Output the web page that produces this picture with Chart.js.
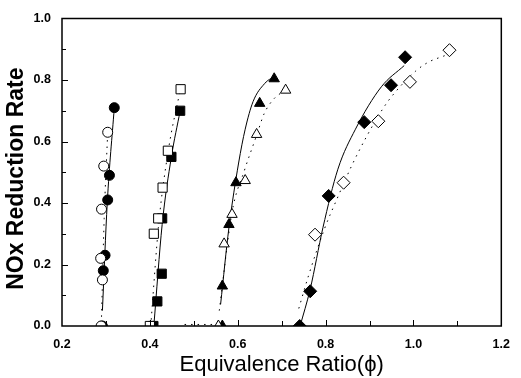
<!DOCTYPE html>
<html>
<head>
<meta charset="utf-8">
<script src="https://cdn.jsdelivr.net/npm/chart.js@4/dist/chart.umd.min.js"></script>
<style>
  html, body { margin: 0; padding: 0; background: #fff; }
  #wrap { width: 521px; height: 378px; }
</style>
</head>
<body>
<div id="wrap"><canvas id="noxChart"></canvas></div>
<script>
// measured points (equivalence ratio, NOx reduction rate)
const circleFilledX = [0.292, 0.294, 0.298, 0.304, 0.308, 0.319];
const circleFilledY = [0.0, 0.18, 0.23, 0.41, 0.49, 0.71];
const circleOpenX = [0.289, 0.292, 0.288, 0.290, 0.295, 0.304];
const circleOpenY = [0.0, 0.15, 0.22, 0.38, 0.52, 0.63];

const squareFilledX = [0.408, 0.417, 0.427, 0.428, 0.449, 0.469];
const squareFilledY = [0.0, 0.08, 0.17, 0.35, 0.55, 0.70];
const squareOpenX = [0.400, 0.409, 0.419, 0.429, 0.441, 0.470];
const squareOpenY = [0.0, 0.30, 0.35, 0.45, 0.57, 0.77];

const triFilledX = [0.565, 0.565, 0.580, 0.596, 0.650, 0.683];
const triFilledY = [0.0, 0.13, 0.33, 0.466, 0.724, 0.804];
const triOpenX = [0.556, 0.569, 0.587, 0.617, 0.643, 0.709];
const triOpenY = [0.0, 0.267, 0.363, 0.473, 0.623, 0.767];

const diaFilledX = [0.741, 0.765, 0.807, 0.888, 0.949, 0.981];
const diaFilledY = [0.0, 0.113, 0.423, 0.663, 0.783, 0.874];
const diaOpenX = [0.776, 0.841, 0.920, 0.992, 1.082];
const diaOpenY = [0.297, 0.466, 0.666, 0.794, 0.897];

// fitted curves
const fitCircleX = [0.292, 0.303, 0.319];
const fitCircleY = [0.05, 0.40, 0.71];
const fitCircleDotX = [0.290, 0.296, 0.304];
const fitCircleDotY = [0.03, 0.35, 0.63];

const fitSquareX = [0.409, 0.428, 0.449, 0.469];
const fitSquareY = [0.0, 0.33, 0.55, 0.70];
const fitSquareDotX = [0.402, 0.420, 0.443, 0.468];
const fitSquareDotY = [0.0, 0.33, 0.58, 0.76];

const fitTriX = [0.561, 0.580, 0.602, 0.617, 0.635, 0.661, 0.676, 0.684];
const fitTriY = [0.07, 0.32, 0.53, 0.64, 0.73, 0.788, 0.804, 0.805];
const fitTriDotX = [0.558, 0.587, 0.615, 0.643, 0.660, 0.680, 0.705];
const fitTriDotY = [0.05, 0.37, 0.505, 0.62, 0.69, 0.735, 0.765];
const fitTriBaseX = [0.479, 0.556];
const fitTriBaseY = [0.005, 0.005];

const fitDiaX = [0.742, 0.765, 0.794, 0.828, 0.868, 0.927, 0.979];
const fitDiaY = [0.0, 0.12, 0.32, 0.51, 0.64, 0.778, 0.847];
const fitDiaDotX = [0.739, 0.761, 0.798, 0.828, 0.859, 0.894, 0.931, 0.953, 1.005, 1.034, 1.071];
const fitDiaDotY = [0.057, 0.163, 0.318, 0.42, 0.52, 0.618, 0.708, 0.751, 0.829, 0.858, 0.879];

const xTicks = [0.2, 0.4, 0.6, 0.8, 1.0, 1.2];
const yTicks = [0.0, 0.2, 0.4, 0.6, 0.8, 1.0];

function pts(xs, ys) {
  return xs.map((x, i) => ({ x: x, y: ys[i] }));
}

function marker(xs, ys, style, filled, radius) {
  return {
    type: 'scatter',
    data: pts(xs, ys),
    pointStyle: style,
    pointRadius: radius,
    pointBorderWidth: 1,
    pointBorderColor: '#000',
    pointBackgroundColor: filled ? '#000' : '#fff',
    showLine: false,
    order: 0
  };
}

function fit(xs, ys, dotted) {
  return {
    type: 'line',
    data: pts(xs, ys),
    borderColor: '#000',
    borderWidth: 1,
    borderDash: dotted ? [1.5, 5] : [],
    pointRadius: 0,
    cubicInterpolationMode: 'monotone',
    fill: false,
    order: 1
  };
}

const frame = {
  id: 'frame',
  afterDraw(chart) {
    const ctx = chart.ctx;
    const a = chart.chartArea;
    const xs = chart.scales.x, ys = chart.scales.y;
    ctx.save();
    ctx.strokeStyle = '#000';
    ctx.lineWidth = 1.5;
    ctx.strokeRect(a.left, a.top, a.right - a.left, a.bottom - a.top);
    ctx.lineWidth = 1;
    ctx.beginPath();
    for (let i = 1; i < 10; i++) {
      const py = Math.round(ys.getPixelForValue(i / 10)) + 0.5;
      const len = i % 2 === 0 ? 6 : 4;
      ctx.moveTo(a.left, py);
      ctx.lineTo(a.left + len, py);
    }
    for (let i = 3; i < 12; i++) {
      const px = Math.round(xs.getPixelForValue(i / 10)) + 0.5;
      const len = i % 2 === 0 ? 6 : 5;
      ctx.moveTo(px, a.bottom);
      ctx.lineTo(px, a.bottom - len);
    }
    ctx.stroke();
    ctx.restore();
  }
};

new Chart(document.getElementById('noxChart'), {
  data: {
    datasets: [
      fit(fitCircleX, fitCircleY, false),
      fit(fitCircleDotX, fitCircleDotY, true),
      fit(fitSquareX, fitSquareY, false),
      fit(fitSquareDotX, fitSquareDotY, true),
      fit(fitTriX, fitTriY, false),
      fit(fitTriDotX, fitTriDotY, true),
      fit(fitTriBaseX, fitTriBaseY, true),
      fit(fitDiaX, fitDiaY, false),
      fit(fitDiaDotX, fitDiaDotY, true),
      marker(circleOpenX, circleOpenY, 'circle', false, 5),
      marker(circleFilledX, circleFilledY, 'circle', true, 5),
      marker(squareOpenX, squareOpenY, 'rect', false, 6.5),
      marker(squareFilledX, squareFilledY, 'rect', true, 6.5),
      marker(triOpenX, triOpenY, 'triangle', false, 6),
      marker(triFilledX, triFilledY, 'triangle', true, 6),
      marker(diaOpenX, diaOpenY, 'rectRot', false, 6.5),
      marker(diaFilledX, diaFilledY, 'rectRot', true, 6.5)
    ]
  },
  plugins: [frame],
  options: {
    responsive: true,
    maintainAspectRatio: false,
    animation: false,
    layout: { padding: { left: 0, right: 8, top: 14, bottom: 0 } },
    plugins: { legend: { display: false }, tooltip: { enabled: false } },
    scales: {
      x: {
        type: 'linear',
        min: 0.2,
        max: 1.2,
        afterBuildTicks(scale) { scale.ticks = xTicks.map(v => ({ value: v })); },
        afterFit(scale) { scale.height = 52; },
        grid: { display: false, drawTicks: false },
        border: { display: false },
        ticks: {
          padding: 11,
          color: '#000',
          font: { family: 'Liberation Sans, Arial', size: 12.5, weight: 'bold' },
          callback: v => v.toFixed(1)
        },
        title: {
          display: true,
          text: 'Equivalence Ratio(\u03d5)',
          color: '#000',
          padding: { top: 0, bottom: 0 },
          font: { family: 'Liberation Sans, Arial', size: 22 }
        }
      },
      y: {
        type: 'linear',
        min: 0,
        max: 1.0,
        afterBuildTicks(scale) { scale.ticks = yTicks.map(v => ({ value: v })); },
        afterFit(scale) { scale.width = 62; },
        grid: { display: false, drawTicks: false },
        border: { display: false },
        ticks: {
          padding: 11,
          color: '#000',
          font: { family: 'Liberation Sans, Arial', size: 12.5, weight: 'bold' },
          callback: v => v.toFixed(1)
        },
        title: {
          display: true,
          text: 'NOx Reduction Rate  ',
          color: '#000',
          padding: { top: 3, bottom: 0 },
          font: { family: 'Liberation Sans, Arial', size: 23, weight: 'bold' }
        }
      }
    }
  }
});
</script>
</body>
</html>
